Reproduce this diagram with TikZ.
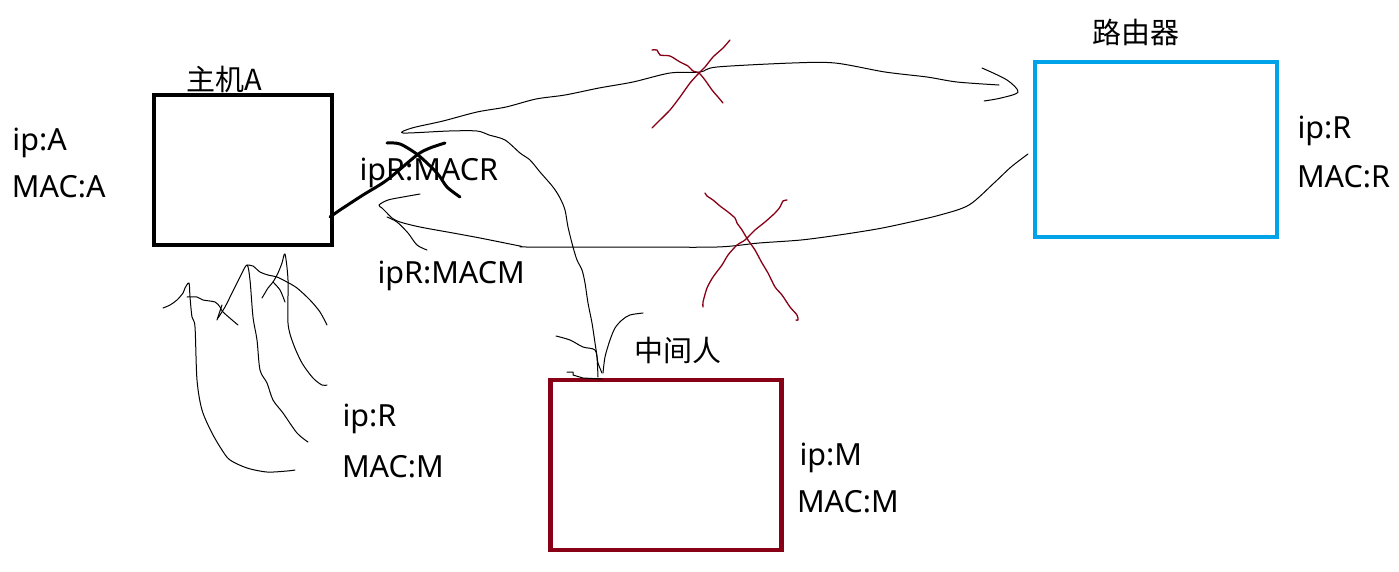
\documentclass[tikz,border=0pt]{standalone}
\usepackage{fontspec}
\setmainfont{Noto Sans}
\newfontfamily\cjk{Noto Sans CJK SC}
\definecolor{pblue}{HTML}{00A2E8}
\definecolor{pred}{HTML}{880015}
\begin{document}
\begin{tikzpicture}[x=1pt,y=-1pt,
  box/.style={draw,line width=4.5pt,inner sep=0pt,outer sep=0pt},
  lbl/.style={anchor=base west,inner sep=0pt,outer sep=0pt,font=\fontsize{30.5}{36}\selectfont,text=black},
  clbl/.style={anchor=base west,inner sep=0pt,outer sep=0pt,font=\cjk\fontsize{29}{34}\selectfont,text=black},
  pen/.style={line width=1pt,line cap=round,line join=round},
  thick pen/.style={line width=3pt,line cap=round,line join=round},
  redpen/.style={draw=pred,line width=1.3pt,line cap=round,line join=round}]
\useasboundingbox (0,0) rectangle (1399,571);
\fill[white] (0,0) rectangle (1399,571);

% boxes
\node[box,draw=black,minimum width=178pt,minimum height=150pt] (hostA) at (243,170) {};
\node[box,draw=pblue,minimum width=242pt,minimum height=175pt] (router) at (1156,149.5) {};
\node[box,draw=pred,minimum width=231pt,minimum height=170pt] (mitm) at (666,465) {};

% labels
\node[clbl] (tA) at (186,90) {主机A};
\node[lbl] (ipA) at (12.5,150) {ip:A};
\node[lbl] (macA) at (12,197) {MAC:A};
\node[clbl] (tR) at (1092,43) {路由器};
\node[lbl] (ipR) at (1297.5,138) {ip:R};
\node[lbl] (macR) at (1297,187) {MAC:R};
\node[clbl] (tM) at (634,361) {中间人};
\node[lbl] (ipM) at (799.5,465) {ip:M};
\node[lbl] (macM) at (797,512) {MAC:M};
\node[lbl] (ipR2) at (342.5,426) {ip:R};
\node[lbl] (macM2) at (342,477) {MAC:M};
\node[lbl] (macr) at (359.5,180) {ipR:MACR};
\node[lbl] (macm) at (377.5,283) {ipR:MACM};

% middleman -> top -> router stroke
\draw[pen] plot[smooth,tension=0.5] coordinates {
 (598,377) (597,357) (595,343) (592,323) (588,303) (585,283) (582,270) (577,260)
 (573,247) (568,227) (565,210) (560,198) (553,187) (540,172) (530,160) (520,153)
 (505,140) (489,135) (477,131) (449,131) (403,133) (412,128) (443,121) (477,112)
 (506,107) (536,99) (565,95) (599,88) (633,82) (670,73) (700,72) (717,67) (792,63)
 (835,63) (885,72) (927,77) (957,82) (999,85)};
\draw[pen] plot[smooth,tension=0.5] coordinates {(982,68) (1007,80) (1018,92) (1001,98) (984,101)};
% small barbs near middleman
\draw[pen] plot[smooth,tension=0.5] coordinates {(556,336) (570,340) (583,347) (595,350) (598,363) (602,373)};
\draw[pen] plot[smooth,tension=0.5] coordinates {(643,313) (630,315) (622,320) (615,328) (610,340) (605,357) (603,373)};
\draw[pen] (567,372) -- (573,372) -- (573,375) -- (583,378) -- (602,379);

% router -> host lower stroke
\draw[pen] plot[smooth,tension=0.5] coordinates {
 (1028,154) (1011,167) (994,183) (969,205) (940,215) (906,223) (877,229) (839,235)
 (801,240) (759,243) (717,247) (633,247) (527,247) (520,246) (480,238) (453,233)
 (420,227) (400,222) (392,218) (387,213) (382,208) (379,205) (388,200) (403,197) (420,194)};
\draw[pen] plot[smooth,tension=0.5] coordinates {(387,217) (397,222) (408,233) (417,245) (427,250)};

% thick scribbles
\draw[thick pen] plot[smooth,tension=0.5] coordinates {(330,217) (340,210) (363,195) (387,180) (417,155) (430,148) (445,143)};
\draw[thick pen] plot[smooth,tension=0.5] coordinates {(387,143) (400,144) (418,155) (437,173) (447,187) (460,197)};

% red crosses
\draw[redpen] plot[smooth,tension=0.4] coordinates {(652,50) (657,50) (660,55) (670,56) (680,62) (688,66) (693,71) (699,73) (705,80) (712,90) (718,97) (723,103)};
\draw[redpen] plot[smooth,tension=0.4] coordinates {(730,40) (723,48) (713,57) (705,67) (699,73) (690,83) (680,97) (670,110) (658,122) (652,128)};
\draw[redpen] plot[smooth,tension=0.4] coordinates {(705,193) (707,196) (713,200) (720,206) (728,212) (735,218) (737,223) (742,230) (748,240) (755,250) (762,263) (768,273) (775,287) (782,295) (790,307) (797,315) (798,320) (796,320)};
\draw[redpen] plot[smooth,tension=0.4] coordinates {(787,200) (783,201) (780,207) (775,213) (765,222) (755,230) (745,240) (737,245) (728,255) (722,265) (713,277) (707,288) (703,302) (703,307)};

% bottom-left scribbles
\draw[pen] plot[smooth,tension=0.5] coordinates {(163,308) (170,305) (177,300) (183,293) (185,288) (189,283) (190,297) (192,317) (195,327) (197,380) (202,410) (212,433) (222,450) (230,460) (247,468) (267,472) (287,471) (295,470)};
\draw[pen] plot[smooth,tension=0.5] coordinates {(187,297) (197,297) (203,300) (215,302) (220,307) (223,312) (238,325)};
\draw[pen] (217,320) -- (222,305);
\draw[pen] plot[smooth,tension=0.5] coordinates {(218,318) (225,307) (232,293) (240,277) (247,265) (250,280) (253,317) (257,340) (260,370) (267,383) (273,400) (283,413) (297,433) (308,442)};
\draw[pen] plot[smooth,tension=0.5] coordinates {(247,265) (253,266) (260,272) (268,275) (277,277) (287,282) (297,288) (310,300) (320,312) (327,325)};
\draw[pen] plot[smooth,tension=0.5] coordinates {(262,298) (265,293) (268,288) (273,282) (278,273) (282,263) (285,254) (288,280) (288,323) (293,343) (302,363) (313,378) (322,385) (327,385)};
\draw[pen] plot[smooth,tension=0.5] coordinates {(273,282) (280,290) (285,302)};
\end{tikzpicture}
\end{document}
